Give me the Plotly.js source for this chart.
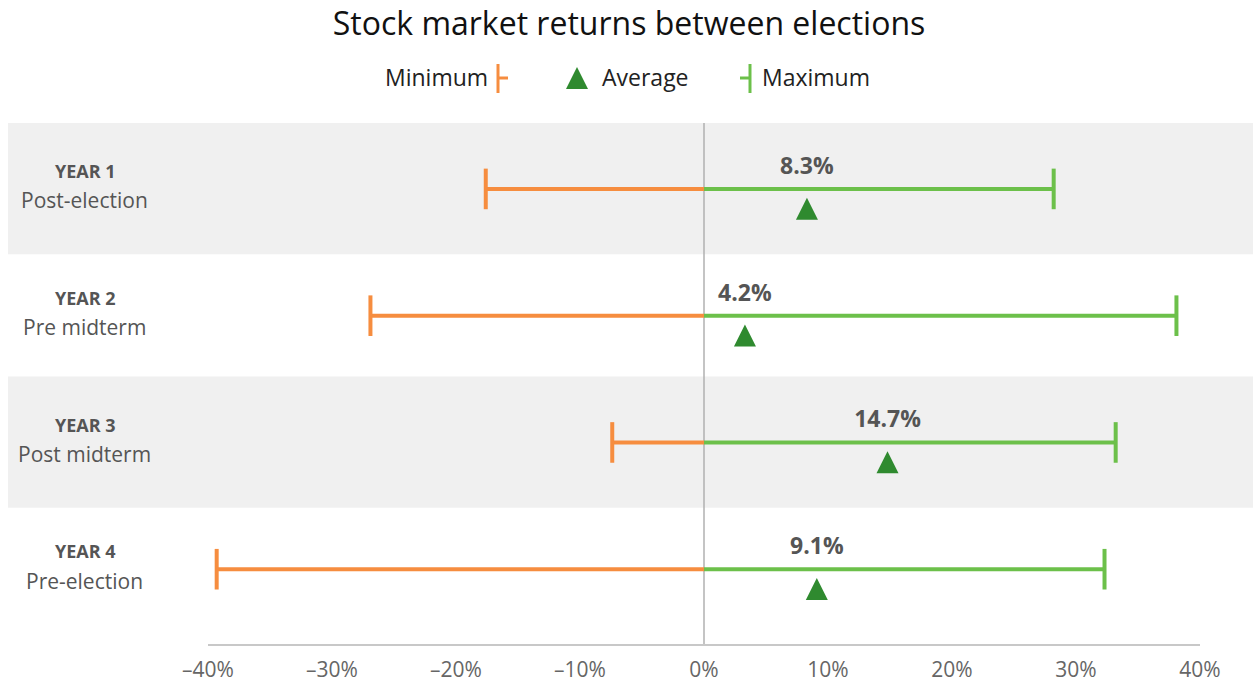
<!DOCTYPE html>
<html>
<head>
<meta charset="utf-8">
<script src="https://cdn.plot.ly/plotly-3.0.1.min.js"></script>
<style>
  html, body { margin: 0; padding: 0; background: #fff; }
  #chart { width: 1253px; height: 682px; }
</style>
</head>
<body>
<div id="chart"></div>
<script>
const years = ['YEAR 1', 'YEAR 2', 'YEAR 3', 'YEAR 4'];
const phases = ['Post-election', 'Pre midterm', 'Post midterm', 'Pre-election'];
const minReturn = [-17.6, -26.9, -7.4, -39.3];
const maxReturn = [28.2, 38.1, 33.2, 32.3];
const avgReturn = [8.3, 3.3, 14.8, 9.1];
const avgLabels = ['8.3%', '4.2%', '14.7%', '9.1%'];
const tickVals = [-40, -30, -20, -10, 0, 10, 20, 30, 40];
const tickText = ['–40%', '–30%', '–20%', '–10%', '0%', '10%', '20%', '30%', '40%'];

const ORANGE = '#f68d3f';
const GREEN = '#6cc04a';
const DARK_GREEN = '#2f8a2f';
const FONT = 'Open Sans, sans-serif';

// plot area in pixels, used to place the hand-drawn legend and side labels
const W = 1253, H = 682;
const M = { l: 208, r: 53, t: 123, b: 38 };
const px = (x) => (x - M.l) / (W - M.l - M.r);
const py = (y) => (H - M.b - y) / (H - M.t - M.b);

const rowIdx = years.map((_, i) => i);
const segX = (vals) => vals.flatMap((v) => [v, 0, null]);
const segY = rowIdx.flatMap((i) => [i, i, null]);

const traces = [
  { type: 'scatter', mode: 'lines', x: segX(minReturn), y: segY, line: { color: ORANGE, width: 4 }, hoverinfo: 'skip' },
  { type: 'scatter', mode: 'lines', x: segX(maxReturn), y: segY, line: { color: GREEN, width: 4 }, hoverinfo: 'skip' },
  { type: 'scatter', mode: 'markers', x: minReturn, y: rowIdx,
    marker: { symbol: 'line-ns', size: 29, line: { color: ORANGE, width: 4 } } },
  { type: 'scatter', mode: 'markers', x: maxReturn, y: rowIdx,
    marker: { symbol: 'line-ns', size: 29, line: { color: GREEN, width: 4 } } },
  { type: 'scatter', mode: 'markers', x: avgReturn, y: rowIdx.map((i) => i + 0.07),
    marker: { symbol: 'arrow-up', size: 22, color: DARK_GREEN, line: { width: 0 } } },
  { type: 'scatter', mode: 'text', x: avgReturn, y: rowIdx.map((i) => i - 0.165),
    text: avgLabels.map((t) => '<b>' + t + '</b>'), textposition: 'middle center',
    textfont: { family: FONT, size: 23, color: '#555' } }
];

const shapes = [];
rowIdx.filter((i) => i % 2 === 0).forEach((i) => {
  shapes.push({ type: 'rect', layer: 'below', xref: 'paper', yref: 'y',
    x0: px(8), x1: px(1253), y0: i - 0.52, y1: i + 0.515,
    fillcolor: '#f0f0f0', line: { width: 0 } });
});
// zero line on top of the bands
shapes.push({ type: 'line', layer: 'below', xref: 'x', yref: 'paper', x0: 0, x1: 0, y0: 0, y1: 1,
  line: { color: '#b0b0b0', width: 1.5 } });
// legend symbols
shapes.push({ type: 'line', xref: 'paper', yref: 'paper', x0: px(498), x1: px(498), y0: py(64), y1: py(93), line: { color: ORANGE, width: 3 } });
shapes.push({ type: 'line', xref: 'paper', yref: 'paper', x0: px(498), x1: px(508), y0: py(78), y1: py(78), line: { color: ORANGE, width: 3 } });
shapes.push({ type: 'line', xref: 'paper', yref: 'paper', x0: px(750), x1: px(750), y0: py(64), y1: py(93), line: { color: GREEN, width: 3 } });
shapes.push({ type: 'line', xref: 'paper', yref: 'paper', x0: px(740), x1: px(750), y0: py(78), y1: py(78), line: { color: GREEN, width: 3 } });
shapes.push({ type: 'path', xref: 'paper', yref: 'paper',
  path: `M ${px(566)} ${py(89)} L ${px(588)} ${py(89)} L ${px(577)} ${py(67)} Z`,
  fillcolor: DARK_GREEN, line: { width: 0 } });

const annotations = [];
rowIdx.forEach((i) => {
  annotations.push({ xref: 'paper', yref: 'y', x: px(85), y: i - 0.14, showarrow: false,
    xanchor: 'center', yanchor: 'middle', text: '<b>' + years[i] + '</b>',
    font: { family: FONT, size: 18, color: '#555' } });
  annotations.push({ xref: 'paper', yref: 'y', x: px(84), y: i + 0.09, showarrow: false,
    xanchor: 'center', yanchor: 'middle', text: phases[i],
    font: { family: FONT, size: 21, color: '#555' } });
});
const legendFont = { family: FONT, size: 23, color: '#222' };
annotations.push({ xref: 'paper', yref: 'paper', x: px(490), y: py(77), xanchor: 'right', yanchor: 'middle', showarrow: false, text: 'Minimum', font: legendFont });
annotations.push({ xref: 'paper', yref: 'paper', x: px(600), y: py(77), xanchor: 'left', yanchor: 'middle', showarrow: false, text: 'Average', font: legendFont });
annotations.push({ xref: 'paper', yref: 'paper', x: px(760), y: py(77), xanchor: 'left', yanchor: 'middle', showarrow: false, text: 'Maximum', font: legendFont });

const layout = {
  width: W,
  height: H,
  margin: M,
  paper_bgcolor: '#fff',
  plot_bgcolor: '#fff',
  showlegend: false,
  font: { family: FONT, color: '#555' },
  title: { text: 'Stock market returns between elections', x: 629 / W, xanchor: 'center',
    y: 1 - 24 / H, yanchor: 'middle', font: { family: FONT, size: 32, color: '#111' } },
  xaxis: {
    range: [-40, 40], tickvals: tickVals, ticktext: tickText, showgrid: false, zeroline: false,
    showline: true, linecolor: '#c8c8c8', linewidth: 1.5, ticks: '', ticklabelstandoff: 6,
    tickfont: { family: FONT, size: 21, color: '#666' }, fixedrange: true
  },
  yaxis: {
    range: [3.59, -0.52], showticklabels: false, showgrid: false, zeroline: false,
    showline: false, ticks: '', fixedrange: true
  },
  shapes,
  annotations
};

Plotly.newPlot('chart', traces, layout, { displayModeBar: false, staticPlot: true });
</script>
</body>
</html>
